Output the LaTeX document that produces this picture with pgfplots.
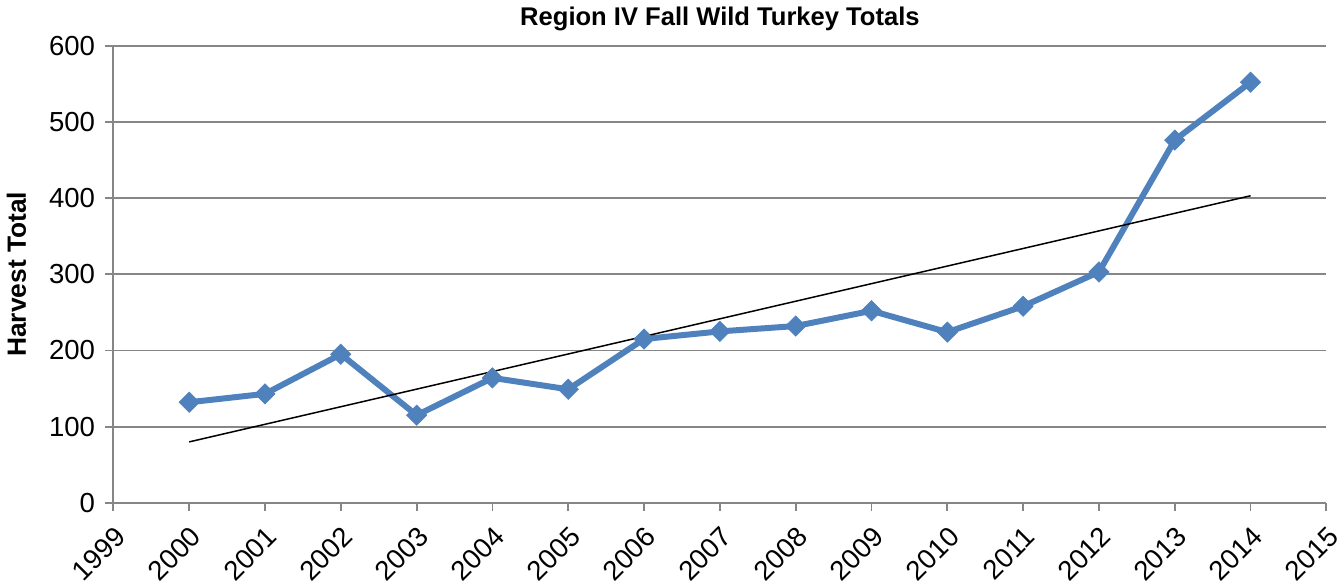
\documentclass[border=0pt]{standalone}
\usepackage{pgfplots}
\pgfplotsset{compat=1.18}
\usepackage{fontspec}
\setmainfont{Liberation Sans}
\definecolor{serblue}{HTML}{4F81BD}
\definecolor{gridgray}{HTML}{868686}
\begin{document}
\begin{tikzpicture}
\begin{axis}[
  scale only axis,
  width=607.5pt, height=229pt,
  xmin=1999, xmax=2015, ymin=0, ymax=600,
  xtick={1999,2000,...,2015},
  ytick={0,100,...,600},
  /pgf/number format/assume math mode=true,
  /pgf/number format/1000 sep={},
  axis x line*=bottom, axis y line*=left,
  axis line style={gridgray, line width=0.9pt, -},
  ymajorgrids, grid style={gridgray, line width=0.9pt},
  tick style={gridgray, line width=0.9pt},
  tick align=outside, major tick length=4pt,
  ticklabel style={font=\fontsize{13.8}{14}\selectfont},
  xticklabel style={rotate=45, anchor=north east, inner sep=1pt, yshift=-4pt, xshift=-4pt},
  yticklabel style={inner sep=5pt},
  title={\bfseries Region IV Fall Wild Turkey Totals},
  title style={font=\fontsize{12.8}{14}\selectfont\bfseries, yshift=-2pt},
  ylabel={\bfseries Harvest Total},
  ylabel style={font=\fontsize{13.2}{14}\selectfont\bfseries, yshift=3pt},
  clip=false,
]
\addplot[serblue, line width=3pt, mark=square*, mark size=3.6pt, mark options={solid, rotate=45, fill=serblue, line width=0.3pt}] coordinates {
(2000,132) (2001,143) (2002,195) (2003,115) (2004,164) (2005,149) (2006,215) (2007,225)
(2008,232) (2009,252) (2010,224) (2011,258) (2012,303) (2013,476) (2014,552)
};
\addplot[black, line width=0.75pt, no marks] coordinates {(2000,80) (2014,403)};
\end{axis}
\end{tikzpicture}
\end{document}
